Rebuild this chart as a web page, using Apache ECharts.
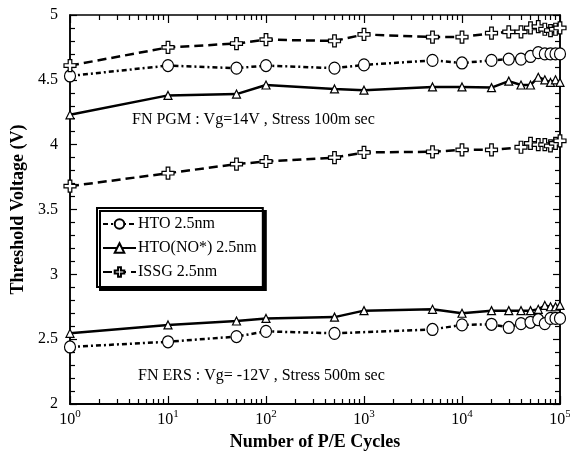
<!DOCTYPE html>
<html>
<head>
<meta charset="utf-8">
<script src="https://cdn.jsdelivr.net/npm/echarts@6/dist/echarts.min.js"></script>
<style>
html, body { margin: 0; padding: 0; background: #fff; }
#box { width: 570px; height: 451px; }
</style>
</head>
<body>
<div id="box"></div>
<script>
var cycles = [1, 10, 50, 100, 500, 1000, 5000, 10000, 20000, 30000, 40000, 50000, 60000, 70000, 80000, 90000, 100000];
// FN PGM
var htoPgm  = [4.53, 4.61, 4.59, 4.61, 4.59, 4.615, 4.65, 4.63, 4.65, 4.66, 4.66, 4.68, 4.71, 4.70, 4.70, 4.70, 4.70];
var nitPgm  = [4.23, 4.38, 4.39, 4.46, 4.43, 4.42, 4.445, 4.445, 4.44, 4.49, 4.46, 4.46, 4.52, 4.50, 4.48, 4.50, 4.48];
var issgPgm = [4.61, 4.75, 4.78, 4.81, 4.80, 4.85, 4.83, 4.83, 4.86, 4.87, 4.87, 4.90, 4.91, 4.89, 4.88, 4.89, 4.90];
// FN ERS
var issgErs = [3.68, 3.78, 3.85, 3.87, 3.90, 3.94, 3.945, 3.96, 3.96, null, 3.98, 4.01, 4.00, 4.00, 3.99, 4.01, 4.03];
var nitErs  = [2.545, 2.61, 2.64, 2.66, 2.67, 2.72, 2.73, 2.70, 2.72, 2.72, 2.72, 2.72, 2.73, 2.76, 2.75, 2.75, 2.76];
var htoErs  = [2.44, 2.48, 2.52, 2.56, 2.545, null, 2.575, 2.61, 2.615, 2.59, 2.62, 2.63, 2.65, 2.62, 2.66, 2.66, 2.66];

var names = ['HTO 2.5nm', 'HTO(NO*) 2.5nm', 'ISSG 2.5nm'];
var minorX = [];
for (var d = 1; d <= 10000; d *= 10) {
    for (var k = 2; k <= 9; k++) minorX.push(d * k);
}
var font = '"Liberation Serif", "DejaVu Serif", serif';
var plusPath = 'path://M3.5,0 H6.5 V3.5 H10 V6.5 H6.5 V10 H3.5 V6.5 H0 V3.5 H3.5 Z';

function pairs(ys) {
    var res = [];
    for (var i = 0; i < cycles.length; i++) {
        if (ys[i] != null) res.push([cycles[i], ys[i]]);
    }
    return res;
}

function mkSeries(name, ys, kind) {
    var s = {
        name: name,
        type: 'line',
        data: pairs(ys),
        xAxisIndex: 0,
        yAxisIndex: 0,
        itemStyle: { color: '#fff', borderColor: '#000', borderWidth: 1.2 },
        lineStyle: { color: '#000', width: 2.5 },
        z: 3
    };
    if (kind == 'hto') {
        s.symbol = 'circle';
        s.symbolSize = [11, 12];
        s.lineStyle.type = [5, 3, 2, 3];
    } else if (kind == 'nit') {
        s.symbol = 'triangle';
        s.symbolSize = 8;
        s.lineStyle.type = 'solid';
    } else {
        s.symbol = plusPath;
        s.symbolSize = 12;
        s.lineStyle.type = [9, 5];
    }
    return s;
}

var myChart = echarts.init(document.getElementById('box'));

var tickAxis = function (pos, len, custom) {
    return {
        type: 'log', logBase: 10, min: 1, max: 100000, position: pos,
        axisLine: { show: pos == 'bottom', lineStyle: { color: '#000', width: 1.5 } },
        axisTick: { show: true, inside: true, length: len, customValues: custom, lineStyle: { color: '#000', width: 1.2 } },
        axisLabel: { show: false },
        splitLine: { show: false }
    };
};

option = {
    backgroundColor: '#fff',
    animation: false,
    textStyle: { fontFamily: font },
    grid: {
        left: 70, right: 10, top: 15, bottom: 47,
        outerBoundsMode: 'none',
        show: true, borderColor: '#000', borderWidth: 1.5
    },
    legend: {
        orient: 'vertical',
        left: 97,
        top: 208,
        padding: [8, 6, 7, 5],
        itemGap: 8,
        itemWidth: 33,
        itemHeight: 12,
        data: names,
        backgroundColor: '#fff',
        borderColor: '#000',
        borderWidth: 2,
        shadowColor: '#000',
        shadowBlur: 0,
        shadowOffsetX: 3,
        shadowOffsetY: 3,
        textStyle: { fontFamily: font, fontSize: 16, color: '#000', padding: [0, 0, 0, -3] }
    },
    xAxis: [
        {
            type: 'log', logBase: 10, min: 1, max: 100000, position: 'bottom',
            name: 'Number of P/E Cycles',
            nameLocation: 'middle',
            nameGap: 27,
            nameTextStyle: { fontFamily: font, fontSize: 18, fontWeight: 'bold', color: '#000' },
            axisLine: { lineStyle: { color: '#000', width: 1.5 } },
            axisTick: { inside: true, length: 8, lineStyle: { color: '#000', width: 1.2 } },
            axisLabel: {
                color: '#000', margin: 5,
                formatter: function (v) {
                    return '{b|10}{s|' + Math.round(Math.log10(v)) + '}';
                },
                rich: {
                    b: { fontFamily: font, fontSize: 16, color: '#000', verticalAlign: 'bottom' },
                    s: { fontFamily: font, fontSize: 11, color: '#000', verticalAlign: 'top', padding: [0, 0, 8, 0] }
                }
            },
            splitLine: { show: false }
        },
        tickAxis('bottom', 5, minorX),
        tickAxis('top', 8, [1, 10, 100, 1000, 10000, 100000]),
        tickAxis('top', 5, minorX)
    ],
    yAxis: [
        {
            type: 'value', min: 2, max: 5, interval: 0.5, position: 'left',
            name: 'Threshold Voltage (V)',
            nameLocation: 'middle',
            nameGap: 40,
            nameTextStyle: { fontFamily: font, fontSize: 18, fontWeight: 'bold', color: '#000' },
            axisLine: { show: true, lineStyle: { color: '#000', width: 1.5 } },
            axisTick: { show: true, inside: true, length: 7, lineStyle: { color: '#000', width: 1.2 } },
            minorTick: { show: true, splitNumber: 5, length: 5, lineStyle: { color: '#000', width: 1.2 } },
            axisLabel: { color: '#000', fontFamily: font, fontSize: 16, margin: 12 },
            splitLine: { show: false }
        },
        {
            type: 'value', min: 2, max: 5, interval: 0.5, position: 'right',
            axisLine: { show: true, lineStyle: { color: '#000', width: 1.5 } },
            axisTick: { show: true, inside: true, length: 7, lineStyle: { color: '#000', width: 1.2 } },
            minorTick: { show: true, splitNumber: 5, length: 5, lineStyle: { color: '#000', width: 1.2 } },
            axisLabel: { show: false },
            splitLine: { show: false }
        }
    ],
    graphic: [
        {
            type: 'text', left: 132, top: 112, z: 10,
            style: { text: 'FN PGM : Vg=14V , Stress 100m sec', font: '16px ' + font, fill: '#000' }
        },
        {
            type: 'text', left: 138, top: 368, z: 10,
            style: { text: 'FN ERS : Vg= -12V , Stress 500m sec', font: '16px ' + font, fill: '#000' }
        }
    ],
    series: [
        mkSeries(names[0], htoPgm, 'hto'),
        mkSeries(names[1], nitPgm, 'nit'),
        mkSeries(names[2], issgPgm, 'issg'),
        mkSeries(names[2], issgErs, 'issg'),
        mkSeries(names[1], nitErs, 'nit'),
        mkSeries(names[0], htoErs, 'hto')
    ]
};
myChart.setOption(option);
</script>
</body>
</html>
